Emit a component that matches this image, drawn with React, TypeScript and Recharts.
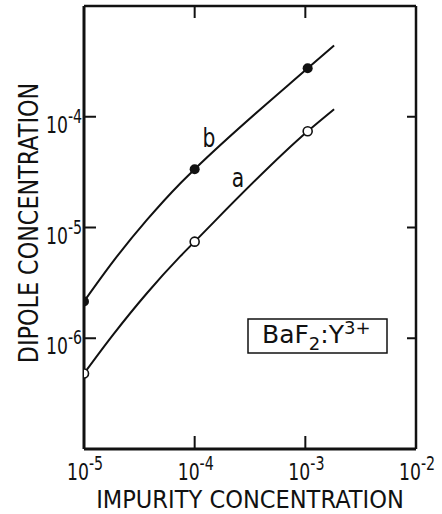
import React from "react";
import { ComposedChart, XAxis, YAxis, Line, Scatter } from "recharts";

// measured points (impurity conc. vs dipole conc.)
const impurity = [1e-5, 1e-4, 1.05e-3];
const dipoleA = [4.8e-7, 7.45e-6, 7.4e-5];
const dipoleB = [2.15e-6, 3.36e-5, 2.74e-4];

// drawn curves
const curveImpurity = [1e-5, 1.85e-5, 3.7e-5, 7.4e-5, 1e-4, 1.05e-3, 1.82e-3];
const curveA = [4.8e-7, 1.09e-6, 2.55e-6, 5.48e-6, 7.45e-6, 7.4e-5, 1.17e-4];
const curveB = [2.15e-6, 5.0e-6, 1.17e-5, 2.5e-5, 3.36e-5, 2.74e-4, 4.4e-4];

const xTicks = [1e-5, 1e-4, 1e-3, 1e-2];
const xInnerTicks = [1e-4, 1e-3];
const yTicks = [1e-6, 1e-5, 1e-4];

const ink = "#111";
const font = "DejaVu Sans";

const pointsA = impurity.map((x, i) => ({ x, y: dipoleA[i] }));
const pointsB = impurity.map((x, i) => ({ x, y: dipoleB[i] }));
const lineA = curveImpurity.map((x, i) => ({ x, y: curveA[i] }));
const lineB = curveImpurity.map((x, i) => ({ x, y: curveB[i] }));

const expOf = (v: number) => `${Math.round(Math.log10(v))}`;

// "10" with a raised exponent, drawn narrow like the original lettering
const PowerLabel = ({ x, y, value }: { x: number; y: number; value: number }) => (
  <g transform={`translate(${x},${y}) scale(0.75,1)`}>
    <text x={0} y={0} fontFamily={font} fill={ink}>
      <tspan fontSize={23}>10</tspan>
      <tspan fontSize={19} dy={-10}>
        {expOf(value)}
      </tspan>
    </text>
  </g>
);

const BottomTick = (props: any) => {
  const { x, y, payload } = props;
  const v = payload.value;
  const inner = v > 1.5e-5 && v < 5e-3;
  return (
    <g>
      {inner && <line x1={x} y1={y} x2={x} y2={y - 13} stroke={ink} strokeWidth={2} />}
      <PowerLabel x={x - 17} y={y + 31} value={v} />
    </g>
  );
};

const LeftTick = (props: any) => {
  const { x, y, payload } = props;
  return (
    <g>
      <line x1={x} y1={y} x2={x + 12} y2={y} stroke={ink} strokeWidth={2} />
      <PowerLabel x={x - 38} y={y + 16} value={payload.value} />
    </g>
  );
};

const TopTick = (props: any) => {
  const { x, y } = props;
  return <line x1={x} y1={y} x2={x} y2={y + 12} stroke={ink} strokeWidth={2} />;
};

const RightTick = (props: any) => {
  const { x, y } = props;
  return <line x1={x} y1={y} x2={x - 9} y2={y} stroke={ink} strokeWidth={2} />;
};

const OpenDot = (props: any) => (
  <circle cx={props.cx} cy={props.cy} r={4.5} fill="#fff" stroke={ink} strokeWidth={1.6} />
);

const FilledDot = (props: any) => <circle cx={props.cx} cy={props.cy} r={5} fill={ink} />;

const App: React.FC = () => {
  return (
    <div style={{ position: "absolute", left: 0, top: 0, background: "#fff" }}>
      <ComposedChart width={442} height={514} margin={{ top: 0, right: 0, bottom: 0, left: 0 }}>
        <XAxis
          dataKey="x"
          type="number"
          scale="log"
          domain={[1e-5, 1e-2]}
          allowDataOverflow
          ticks={xTicks}
          interval={0}
          height={65}
          tickSize={0}
          tickMargin={0}
          tickLine={false}
          axisLine={{ stroke: ink, strokeWidth: 3 }}
          tick={<BottomTick />}
        />
        <XAxis
          xAxisId="top"
          orientation="top"
          dataKey="x"
          type="number"
          scale="log"
          domain={[1e-5, 1e-2]}
          allowDataOverflow
          ticks={xInnerTicks}
          interval={0}
          height={6}
          tickSize={0}
          tickMargin={0}
          tickLine={false}
          axisLine={{ stroke: ink, strokeWidth: 2.5 }}
          tick={<TopTick />}
        />
        <YAxis
          dataKey="y"
          type="number"
          scale="log"
          domain={[1e-7, 1e-3]}
          allowDataOverflow
          ticks={yTicks}
          interval={0}
          width={84}
          tickSize={0}
          tickMargin={0}
          tickLine={false}
          axisLine={{ stroke: ink, strokeWidth: 3 }}
          tick={<LeftTick />}
        />
        <YAxis
          yAxisId="right"
          orientation="right"
          dataKey="y"
          type="number"
          scale="log"
          domain={[1e-7, 1e-3]}
          allowDataOverflow
          ticks={yTicks}
          interval={0}
          width={26}
          tickSize={0}
          tickMargin={0}
          tickLine={false}
          axisLine={{ stroke: ink, strokeWidth: 2.5 }}
          tick={<RightTick />}
        />
        <Line data={lineB} dataKey="y" type="monotone" stroke={ink} strokeWidth={2} dot={false} isAnimationActive={false} />
        <Line data={lineA} dataKey="y" type="monotone" stroke={ink} strokeWidth={2} dot={false} isAnimationActive={false} />
        <Scatter data={pointsB} dataKey="y" shape={<FilledDot />} isAnimationActive={false} />
        <Scatter data={pointsA} dataKey="y" shape={<OpenDot />} isAnimationActive={false} />

        <g transform="translate(209,147) scale(0.78,1)">
          <text x={0} y={0} fontSize={26} fontFamily={font} fill={ink} textAnchor="middle">
            b
          </text>
        </g>
        <g transform="translate(238,187) scale(0.78,1)">
          <text x={0} y={0} fontSize={26} fontFamily={font} fill={ink} textAnchor="middle">
            a
          </text>
        </g>

        <rect x={248} y={319} width={139} height={34} fill="#fff" stroke={ink} strokeWidth={1.5} />
        <text x={262} y={343} fontSize={25} fontFamily={font} fill={ink}>
          BaF
          <tspan fontSize={18} dy={7}>2</tspan>
          <tspan dy={-7}>:Y</tspan>
          <tspan fontSize={18} dy={-9}>3+</tspan>
        </text>

        <g transform="translate(250,508) scale(0.94,1)">
          <text x={0} y={0} fontSize={24} fontFamily={font} fill={ink} textAnchor="middle">
            IMPURITY CONCENTRATION
          </text>
        </g>
        <g transform="translate(38,223) rotate(-90) scale(0.825,1)">
          <text x={0} y={0} fontSize={27} fontFamily={font} fill={ink} textAnchor="middle">
            DIPOLE CONCENTRATION
          </text>
        </g>
      </ComposedChart>
    </div>
  );
};

export default App;
